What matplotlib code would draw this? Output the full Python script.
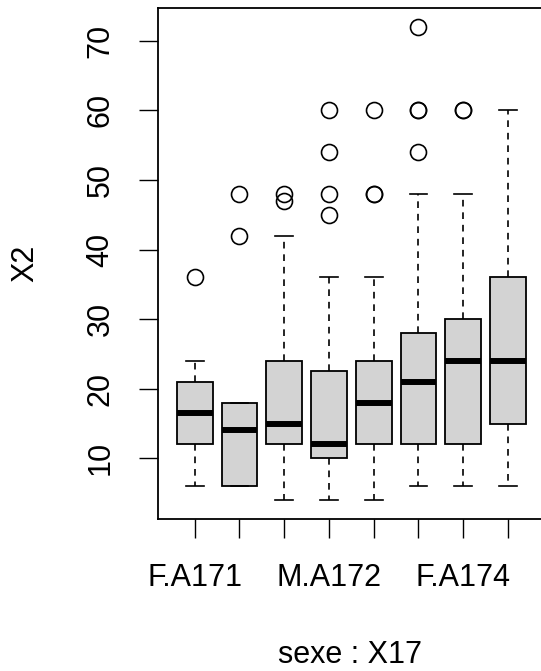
import matplotlib
matplotlib.use("Agg")
import matplotlib.pyplot as plt

plt.rcParams["font.family"] = ["Liberation Sans", "DejaVu Sans"]

# groups sexe x X17
groups = ["F.A171", "M.A171", "F.A172", "M.A172", "F.A173", "M.A173", "F.A174", "M.A174"]
shown = ["F.A171", "M.A172", "F.A174"]

q1 = [12, 6, 12, 10, 12, 12, 12, 15]
med = [16.5, 14, 15, 12, 18, 21, 24, 24]
q3 = [21, 18, 24, 22.5, 24, 28, 30, 36]
whislo = [6, 6, 4, 4, 4, 6, 6, 6]
whishi = [24, 18, 42, 36, 36, 48, 48, 60]
outliers = [
    [36],
    [42, 48],
    [47, 48],
    [45, 48, 54, 60],
    [48, 48, 60],
    [54, 60, 60, 72],
    [60, 60],
    [],
]

stats = []
for i, g in enumerate(groups):
    stats.append(dict(label=g, q1=q1[i], med=med[i], q3=q3[i],
                      whislo=whislo[i], whishi=whishi[i], fliers=outliers[i]))

fig = plt.figure(figsize=(5.41, 6.71), dpi=100)
ax = fig.add_axes([158 / 541, 152 / 671, 386.7 / 541, 511 / 671])

ax.bxp(stats, positions=range(1, len(groups) + 1), widths=0.8, capwidths=0.4,
       patch_artist=True,
       boxprops=dict(facecolor="#D3D3D3", edgecolor="black", linewidth=1.3),
       medianprops=dict(color="black", linewidth=4.3, solid_capstyle="butt"),
       whiskerprops=dict(color="black", linewidth=1.2, linestyle=(0, (4, 3.5))),
       capprops=dict(color="black", linewidth=1.2),
       flierprops=dict(marker="o", markersize=11.5, markerfacecolor="none",
                       markeredgecolor="black", markeredgewidth=1.2))

ax.set_xlim(0.18, 8.82)
ax.set_ylim(1.28, 74.72)
ax.set_yticks([10, 20, 30, 40, 50, 60, 70])
ax.set_xticks(range(1, len(groups) + 1))
ax.set_xticklabels([g if g in shown else "" for g in groups])

for sp in ["top", "right", "bottom", "left"]:
    ax.spines[sp].set_linewidth(1.3)

ax.tick_params(axis="both", length=13.5, width=1.0, labelsize=22, colors="black")
ax.tick_params(axis="x", pad=18)
ax.tick_params(axis="y", pad=17)
for lab in ax.get_yticklabels():
    lab.set_rotation(90)
    lab.set_va("center")

ax.set_xlabel("sexe : X17", fontsize=22)
ax.xaxis.set_label_coords(0.497, -0.266)
ax.xaxis.label.set_va("center")
ax.set_ylabel("X2", fontsize=22)
ax.yaxis.set_label_coords(-0.344, 0.5)
ax.yaxis.label.set_va("center")

fig.savefig("out.png", dpi=100)
